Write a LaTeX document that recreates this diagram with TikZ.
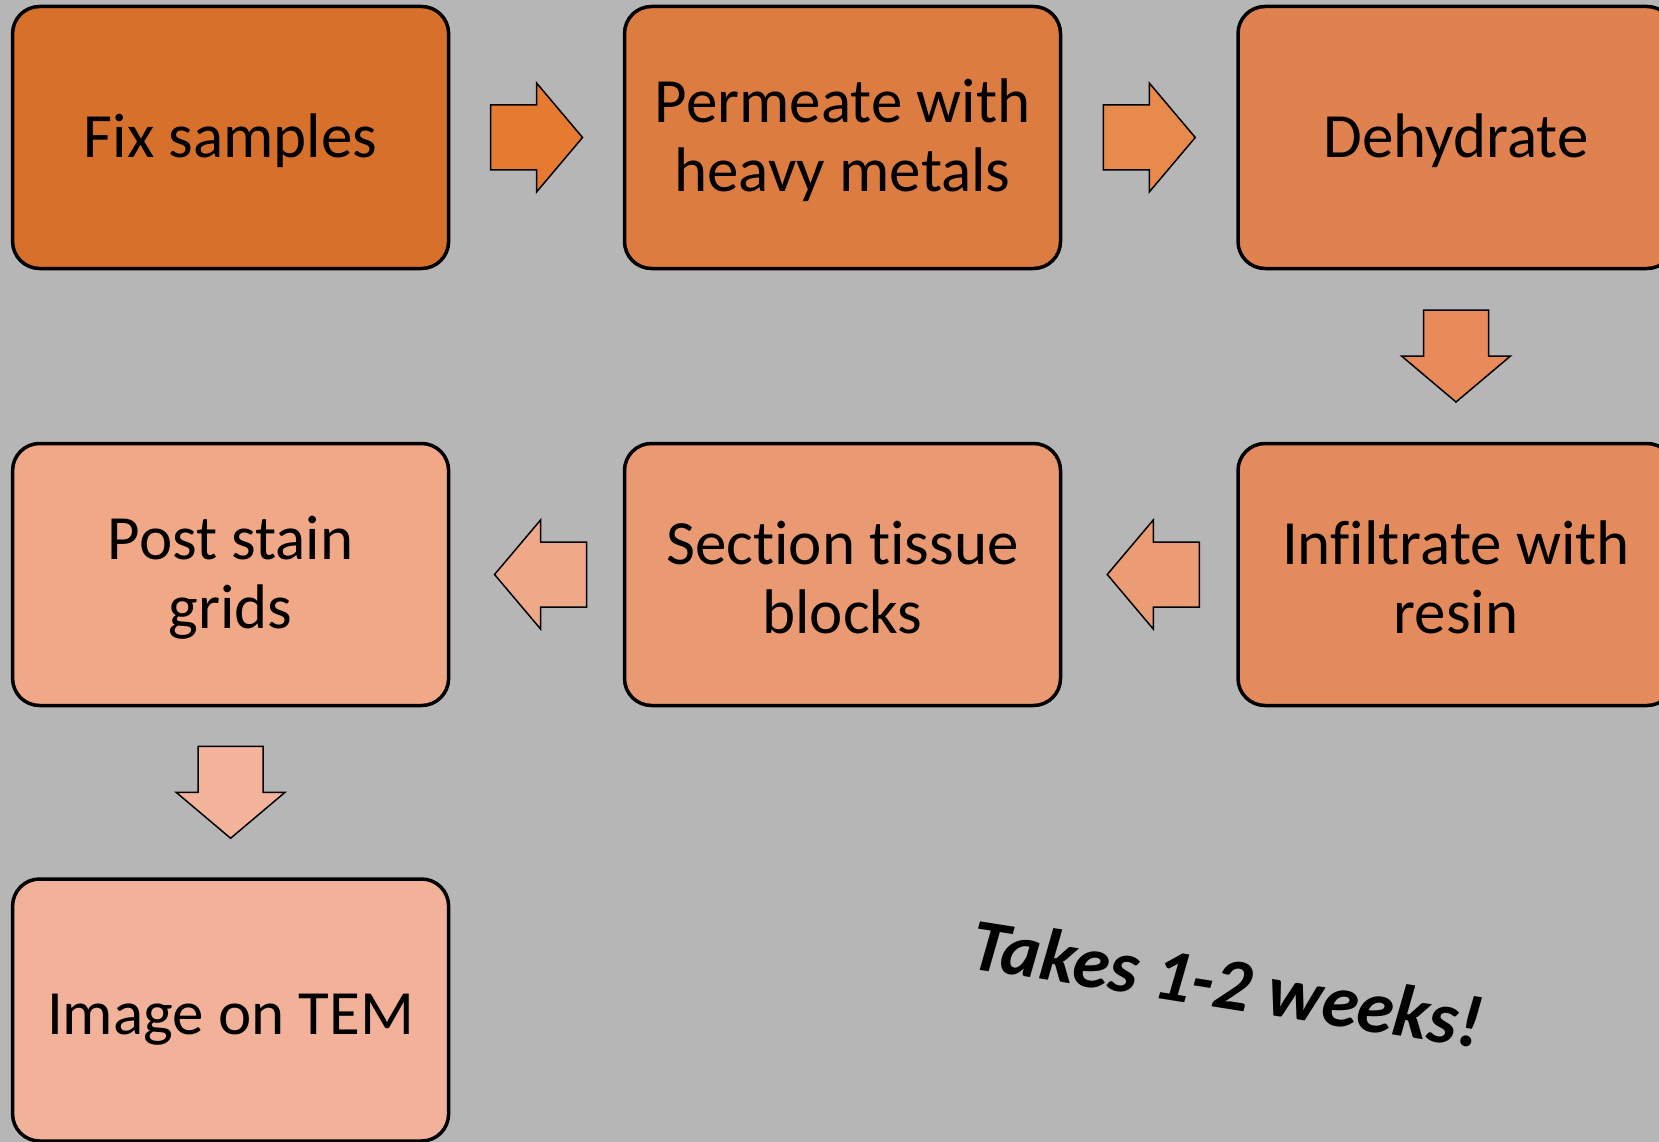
\documentclass[tikz,border=0pt]{standalone}
\usepackage{fontspec}
\setmainfont[RawFeature={-liga,-clig,-dlig}]{Carlito}
\usetikzlibrary{calc}
\definecolor{bgc}{HTML}{B6B6B6}
\definecolor{cA}{HTML}{D7702B}
\definecolor{cB}{HTML}{DC7C40}
\definecolor{cC}{HTML}{E08250}
\definecolor{cD}{HTML}{E48B5D}
\definecolor{cE}{HTML}{EA9A72}
\definecolor{cF}{HTML}{F0A886}
\definecolor{cG}{HTML}{F2B29A}
\definecolor{aA}{HTML}{E57A30}
\definecolor{aB}{HTML}{E88A4C}
\definecolor{aC}{HTML}{E88A5A}
\definecolor{aD}{HTML}{EC9C74}
\definecolor{aE}{HTML}{EFA888}
\definecolor{aF}{HTML}{F4B49B}
\tikzset{
  stepbox/.style={draw=black, line width=3.5pt, rounded corners=27pt,
    minimum width=436pt, minimum height=262pt, inner sep=0pt},
  steptext/.style={inner sep=0pt, align=center, font=\fontsize{63}{69}\selectfont},
  blockline/.style={draw=black, line width=1.5pt, line join=miter},
  pics/rarr/.style={code={\path[blockline,fill=#1] (-46,-32.5) -- (0,-32.5) -- (0,-54.5) -- (46,0) -- (0,54.5) -- (0,32.5) -- (-46,32.5) -- cycle;}},
  pics/larr/.style={code={\path[blockline,fill=#1] (46,-32.5) -- (0,-32.5) -- (0,-54.5) -- (-46,0) -- (0,54.5) -- (0,32.5) -- (46,32.5) -- cycle;}},
  pics/darr/.style={code={\path[blockline,fill=#1] (-32.5,-46) -- (-32.5,0) -- (-54.5,0) -- (0,46) -- (54.5,0) -- (32.5,0) -- (32.5,-46) -- cycle;}},
}
\begin{document}
\begin{tikzpicture}[x=1pt,y=-1pt]
\useasboundingbox (0,0) rectangle (1659,1142);
\clip (0,0) rectangle (1659,1142);
\fill[bgc] (0,0) rectangle (1659,1142);
\node[stepbox, fill=cA] (fix) at (230.6,137.5) {};
\node[stepbox, fill=cB] (perm) at (842.5,137.5) {};
\node[stepbox, fill=cC] (dehy) at (1456,137.5) {};
\node[stepbox, fill=cD] (infil) at (1456,574.5) {};
\node[stepbox, fill=cE] (sect) at (842.5,574.5) {};
\node[stepbox, fill=cF] (post) at (230.6,574.5) {};
\node[stepbox, fill=cG] (img) at (230.6,1010) {};
\node[steptext] (fixt) at ($(fix.center)+(0,3)$) {Fix samples};
\node[steptext] (permt) at ($(perm.center)+(0,3)$) {Permeate with\\heavy metals};
\node[steptext] (dehyt) at ($(dehy.center)+(0,3)$) {Dehydrate};
\node[steptext] (infilt) at ($(infil.center)+(0,3)$) {Infiltrate with\\resin};
\node[steptext] (sectt) at ($(sect.center)+(0,3)$) {Section tissue\\blocks};
\node[steptext] (postt) at ($(post.center)+(0,3)$) {Post stain\\grids};
\node[steptext] (imgt) at ($(img.center)+(0,10)$) {Image on TEM};
\pic at ($(fix.east)!0.5!(perm.west)$) {rarr=aA};
\pic at ($(perm.east)!0.5!(dehy.west)$) {rarr=aB};
\pic at ($(dehy.south)!0.5!(infil.north)$) {darr=aC};
\pic at ($(infil.west)!0.5!(sect.east)+(4,0)$) {larr=aD};
\pic at ($(sect.west)!0.5!(post.east)+(4,0)$) {larr=aE};
\pic at ($(post.south)!0.5!(img.north)$) {darr=aF};
\node[rotate=-9, font=\fontsize{74}{80}\selectfont\bfseries\itshape] (takes) at (1227,983) {Takes 1-2 weeks!};
\end{tikzpicture}
\end{document}
